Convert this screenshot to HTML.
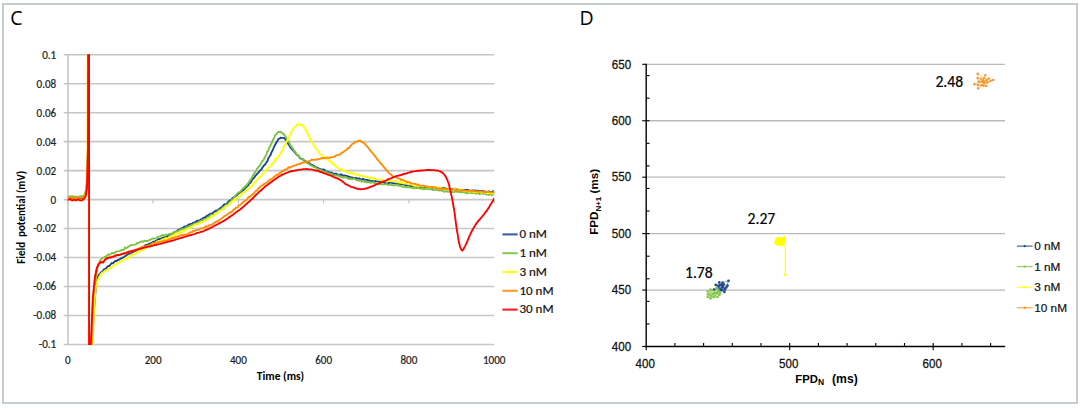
<!DOCTYPE html>
<html><head><meta charset="utf-8"><style>
html,body{margin:0;padding:0;background:#fff;}
body{width:1081px;height:408px;overflow:hidden;position:relative;}
svg{position:absolute;left:0;top:0;}
.cal{font-family:"Carlito","Liberation Sans",sans-serif;}
.ari{font-family:"Liberation Sans",Arial,sans-serif;}
</style></head><body>
<svg width="1081" height="408" viewBox="0 0 1081 408">
<rect x="3" y="4" width="1074" height="399" fill="#fff" stroke="#c4cdcc" stroke-width="2"/>
<text x="10.2" y="25.2" font-family="'Open Sans','DejaVu Sans',sans-serif" font-size="19.5" fill="#000">C</text>
<text x="579.6" y="25.2" font-family="'Open Sans','DejaVu Sans',sans-serif" font-size="19.5" fill="#000">D</text>
<!-- chart C -->
<g stroke="#c6c6c6" stroke-width="1.55"><line x1="63.8" x2="494.2" y1="54.70" y2="54.70"/><line x1="63.8" x2="494.2" y1="83.68" y2="83.68"/><line x1="63.8" x2="494.2" y1="112.66" y2="112.66"/><line x1="63.8" x2="494.2" y1="141.64" y2="141.64"/><line x1="63.8" x2="494.2" y1="170.62" y2="170.62"/><line x1="63.8" x2="494.2" y1="199.60" y2="199.60"/><line x1="63.8" x2="494.2" y1="228.58" y2="228.58"/><line x1="63.8" x2="494.2" y1="257.56" y2="257.56"/><line x1="63.8" x2="494.2" y1="286.54" y2="286.54"/><line x1="63.8" x2="494.2" y1="315.52" y2="315.52"/><line x1="63.8" x2="494.2" y1="344.50" y2="344.50"/></g>
<line x1="68" x2="68" y1="54.2" y2="345" stroke="#bfbfbf" stroke-width="1.4"/>
<g stroke="#bfbfbf" stroke-width="1.1"><line x1="67.8" x2="67.8" y1="199.6" y2="203.5"/><line x1="153.1" x2="153.1" y1="199.6" y2="203.5"/><line x1="238.4" x2="238.4" y1="199.6" y2="203.5"/><line x1="323.6" x2="323.6" y1="199.6" y2="203.5"/><line x1="408.9" x2="408.9" y1="199.6" y2="203.5"/><line x1="494.2" x2="494.2" y1="199.6" y2="203.5"/></g>
<defs><clipPath id="pc"><rect x="67.8" y="54.3" width="426.4" height="290.6"/></clipPath></defs>
<g clip-path="url(#pc)" fill="none" stroke-width="1.85" stroke-linejoin="round" stroke-linecap="round"><path d="M68.0,198.6 L72.0,198.9 L76.0,198.4 L80.0,198.9 L83.5,198.2 L85.3,195.5 L86.8,185.0 L87.9,150.0 L88.0,40.0 L89.0,40.0 L89.1,360.0 L91.5,350.0 L91.5,349.3 L91.6,348.6 L91.6,347.7 L91.7,346.8 L91.8,345.8 L91.8,344.1 L91.9,343.3 L92.0,342.3 L92.0,340.9 L92.1,339.6 L92.2,338.1 L92.3,337.1 L92.4,335.8 L92.5,334.5 L92.6,332.3 L92.6,331.2 L92.7,329.7 L92.8,328.6 L92.9,327.4 L93.0,325.4 L93.1,324.1 L93.2,323.2 L93.3,321.4 L93.3,320.7 L93.4,319.1 L93.5,318.3 L93.6,316.1 L93.7,315.2 L93.8,314.3 L93.9,312.1 L94.0,311.1 L94.1,309.6 L94.2,308.0 L94.3,307.2 L94.4,305.2 L94.5,303.7 L94.6,302.8 L94.7,301.7 L94.8,300.4 L94.9,299.2 L95.0,298.0 L95.1,297.1 L95.1,296.0 L95.2,294.9 L95.3,293.7 L95.4,293.0 L95.5,291.9 L95.7,290.7 L95.8,288.3 L96.0,286.8 L96.1,285.7 L96.3,284.4 L96.4,284.0 L96.6,282.1 L96.7,282.0 L96.9,280.5 L97.1,280.0 L97.5,278.7 L97.9,277.5 L98.4,275.9 L98.8,275.0 L99.4,274.4 L100.2,273.5 L101.1,272.2 L102.1,271.9 L103.0,270.8 L104.2,269.1 L105.5,268.9 L106.7,267.6 L107.9,266.1 L109.2,266.0 L110.4,264.7 L111.6,263.1 L112.9,263.3 L114.1,262.0 L115.3,261.0 L116.5,261.0 L117.7,260.0 L118.7,259.9 L119.7,259.4 L120.7,258.3 L122.0,258.3 L122.9,257.4 L124.0,257.0 L125.0,256.3 L126.2,255.4 L127.4,254.6 L128.6,254.0 L129.6,253.5 L130.6,253.3 L131.7,252.7 L132.8,252.2 L133.9,251.6 L135.0,250.7 L136.1,250.7 L137.2,250.2 L138.3,249.6 L139.4,249.2 L140.4,247.8 L141.5,248.0 L142.6,247.4 L143.7,246.7 L144.7,246.0 L145.8,244.8 L147.0,245.0 L148.3,244.3 L149.6,243.7 L150.9,243.2 L152.1,242.7 L153.2,241.7 L154.3,242.0 L155.5,241.0 L156.5,240.7 L157.5,239.8 L158.6,239.1 L160.0,239.0 L161.0,238.6 L162.1,238.2 L163.3,237.6 L164.5,237.1 L165.8,236.8 L167.1,236.7 L168.5,235.4 L169.7,234.5 L171.0,234.6 L172.1,234.0 L173.3,233.5 L174.4,232.4 L175.6,231.6 L176.7,231.3 L177.8,230.2 L178.9,229.6 L180.0,229.5 L181.0,228.5 L182.0,228.5 L183.3,227.6 L184.4,226.5 L185.5,227.0 L186.5,225.9 L187.5,225.5 L188.6,224.7 L189.8,224.1 L190.9,224.1 L192.1,223.6 L193.3,222.7 L194.6,222.3 L195.8,221.8 L197.1,220.6 L198.4,221.0 L199.6,220.2 L200.7,219.5 L201.9,219.1 L203.0,218.1 L204.2,217.5 L205.3,217.7 L206.4,216.1 L207.5,215.6 L208.5,215.2 L209.4,214.3 L210.7,213.6 L211.8,213.7 L212.7,213.1 L213.8,211.9 L215.0,211.4 L215.9,210.4 L217.0,211.0 L218.1,209.9 L219.2,208.9 L220.4,208.0 L221.5,207.4 L222.6,206.6 L223.6,205.1 L224.7,204.3 L225.7,204.8 L226.7,203.7 L227.6,202.8 L228.6,201.3 L229.5,200.9 L230.4,200.1 L231.4,199.8 L232.4,198.2 L233.4,197.6 L234.4,197.0 L235.4,196.3 L236.4,195.7 L237.3,195.1 L238.3,193.4 L239.3,193.3 L240.4,192.1 L241.4,191.8 L242.4,190.6 L243.3,190.1 L244.2,189.5 L245.2,187.6 L246.1,187.5 L247.0,186.3 L247.8,185.7 L248.6,184.8 L249.3,183.3 L250.3,183.1 L250.9,182.2 L251.7,180.6 L252.7,178.7 L253.4,178.6 L254.2,177.7 L255.1,176.2 L256.0,175.1 L256.9,173.9 L257.9,173.2 L258.8,172.1 L259.6,171.2 L260.5,170.1 L261.4,169.5 L262.3,167.8 L263.2,166.5 L264.0,165.4 L264.8,165.2 L265.5,163.7 L266.3,162.5 L267.0,161.6 L267.6,160.9 L268.2,158.7 L268.8,157.4 L269.4,156.8 L270.1,155.4 L270.7,155.0 L271.2,152.8 L271.8,152.0 L272.4,150.7 L272.9,149.6 L273.5,148.3 L274.0,146.7 L274.5,146.2 L275.1,144.8 L275.6,144.0 L276.4,142.5 L277.2,141.2 L277.9,140.0 L278.6,138.8 L279.7,138.7 L280.6,137.7 L282.6,137.8 L284.6,138.1 L285.4,139.5 L286.3,140.4 L287.2,142.0 L287.8,143.0 L288.3,144.0 L289.0,145.0 L289.7,146.1 L290.6,147.7 L291.3,148.3 L292.0,149.1 L292.9,150.4 L293.8,151.1 L294.7,152.3 L295.6,153.5 L296.5,154.5 L297.4,155.1 L298.4,155.7 L299.4,157.3 L300.4,158.3 L301.4,158.8 L302.5,158.8 L303.6,160.1 L304.8,160.7 L305.8,161.7 L306.8,162.1 L307.9,161.8 L309.0,163.2 L310.1,163.7 L311.2,164.7 L312.4,165.1 L313.5,165.8 L314.6,166.3 L315.8,167.2 L317.1,167.4 L318.3,168.3 L319.6,168.9 L320.8,169.1 L322.0,170.0 L323.2,169.4 L324.4,169.9 L325.6,171.0 L326.8,171.5 L327.9,171.7 L329.0,172.9 L330.2,172.5 L331.5,172.6 L333.0,173.5 L334.0,174.2 L335.0,173.7 L336.1,173.6 L337.2,174.2 L338.4,174.9 L339.6,175.3 L340.8,174.2 L342.0,174.9 L343.3,175.7 L344.6,175.5 L345.9,175.8 L347.2,175.8 L348.3,176.9 L349.5,176.7 L350.7,177.3 L351.9,177.4 L353.1,177.8 L354.3,178.1 L355.6,177.8 L356.8,178.5 L358.1,178.7 L359.3,178.4 L360.6,179.2 L361.8,179.4 L363.1,178.9 L364.3,179.6 L365.5,179.9 L366.8,179.9 L368.0,180.3 L369.3,180.4 L370.6,180.9 L371.9,181.2 L373.1,181.0 L374.4,181.8 L375.6,181.0 L376.9,181.3 L378.1,181.3 L379.2,181.7 L380.4,182.1 L381.5,182.1 L382.9,181.9 L384.2,182.6 L385.5,183.3 L386.8,183.4 L388.1,183.2 L389.3,182.8 L390.5,182.5 L391.7,182.7 L392.8,183.5 L393.9,183.1 L395.0,183.5 L396.3,184.0 L397.5,183.4 L398.5,183.7 L399.5,184.2 L400.6,184.1 L401.7,184.4 L403.1,184.3 L404.8,184.8 L405.8,185.6 L406.8,185.4 L407.9,185.4 L409.0,184.8 L410.2,186.0 L411.4,186.3 L412.7,186.1 L414.0,185.6 L415.3,186.8 L416.6,186.4 L417.9,186.5 L419.3,187.1 L420.6,187.0 L421.9,186.8 L423.2,187.1 L424.4,187.0 L425.6,187.4 L426.9,187.2 L428.2,187.1 L429.5,187.3 L430.8,187.2 L432.1,188.0 L433.4,187.8 L434.7,187.2 L436.0,187.7 L437.3,188.2 L438.5,188.3 L439.7,188.0 L440.9,188.8 L442.0,188.1 L443.0,187.8 L444.0,188.5 L445.4,188.4 L446.5,189.1 L447.3,189.0 L447.9,188.7 L448.6,188.9 L449.6,189.3 L450.8,189.5 L452.6,189.0 L455.0,188.7 L455.8,188.9 L456.7,190.1 L457.7,189.5 L458.8,189.9 L460.0,189.8 L461.2,190.0 L462.4,190.4 L463.7,190.5 L465.1,189.9 L466.5,189.9 L467.9,189.8 L469.4,191.0 L470.8,190.6 L472.3,190.3 L473.8,190.9 L475.3,190.3 L476.8,191.0 L478.2,190.6 L479.7,191.5 L481.1,191.0 L482.5,191.0 L483.9,191.3 L485.2,191.4 L486.5,192.3 L487.7,191.6 L488.9,191.3 L490.0,191.9 L491.0,191.9 L491.9,191.8 L492.8,191.3 L493.5,191.4 L494.2,191.8" stroke="#1a4490"/>
<path d="M68.0,196.6 L72.0,196.2 L76.0,196.8 L80.0,196.3 L83.5,196.0 L85.3,193.5 L86.8,185.0 L87.9,150.0 L88.0,40.0 L89.0,40.0 L89.1,360.0 L91.5,350.0 L91.5,349.4 L91.6,348.6 L91.6,347.8 L91.6,346.9 L91.7,346.0 L91.7,344.8 L91.7,343.7 L91.8,342.8 L91.8,341.3 L91.9,340.3 L91.9,338.6 L92.0,337.8 L92.0,336.7 L92.1,335.4 L92.2,333.6 L92.2,332.7 L92.3,331.2 L92.3,329.3 L92.4,327.9 L92.4,326.2 L92.5,325.5 L92.6,324.1 L92.6,322.2 L92.7,321.3 L92.8,320.5 L92.8,319.0 L92.9,316.8 L92.9,316.7 L93.0,315.5 L93.1,314.1 L93.1,312.4 L93.2,311.3 L93.3,310.2 L93.4,309.0 L93.4,306.9 L93.5,306.7 L93.6,304.4 L93.7,303.5 L93.7,302.2 L93.8,301.5 L93.9,299.4 L94.0,298.0 L94.1,297.0 L94.1,295.5 L94.2,294.5 L94.3,293.6 L94.4,292.6 L94.5,290.5 L94.6,289.5 L94.6,288.9 L94.7,287.2 L94.8,287.3 L94.9,286.1 L95.0,285.7 L95.2,283.7 L95.3,282.5 L95.5,279.8 L95.7,278.9 L95.9,277.7 L96.1,276.3 L96.3,274.6 L96.4,273.8 L96.6,272.2 L96.8,271.9 L97.0,270.6 L97.2,271.1 L97.3,268.7 L97.5,267.6 L97.9,266.6 L98.3,264.5 L98.6,263.5 L99.0,263.7 L99.4,262.1 L100.4,259.9 L101.6,258.9 L102.6,258.0 L103.8,257.5 L105.2,256.6 L106.4,256.4 L107.8,254.5 L109.2,254.9 L110.4,254.3 L111.7,253.2 L112.9,252.9 L114.1,253.1 L115.3,252.4 L116.5,251.4 L117.7,251.3 L119.0,251.1 L120.4,250.8 L122.0,249.8 L122.9,250.1 L124.0,249.6 L125.0,247.5 L126.2,248.3 L127.4,247.5 L128.6,246.4 L129.7,246.0 L130.9,245.1 L132.1,244.8 L133.4,244.9 L134.7,244.7 L136.0,244.3 L137.2,242.9 L138.4,242.9 L139.7,242.3 L140.9,241.7 L142.1,241.3 L143.4,241.9 L144.6,240.8 L145.8,240.9 L147.0,241.0 L148.3,240.8 L149.6,239.8 L150.9,239.6 L152.1,238.6 L153.2,238.5 L154.3,238.6 L155.8,238.4 L157.0,237.4 L158.3,236.6 L160.0,236.7 L161.0,235.9 L162.1,235.0 L163.3,235.4 L164.5,236.0 L165.8,234.6 L167.1,234.7 L168.5,234.4 L169.7,233.7 L171.0,233.7 L172.2,233.9 L173.4,232.2 L174.7,232.6 L175.9,231.4 L177.1,231.5 L178.3,230.9 L179.5,230.4 L180.8,229.5 L182.0,229.1 L183.1,229.1 L184.2,228.7 L185.3,228.3 L186.4,227.1 L187.5,227.4 L188.6,226.1 L189.7,226.2 L190.8,225.5 L192.0,224.8 L193.1,224.7 L194.3,223.7 L195.5,223.6 L196.7,223.3 L197.9,222.6 L199.1,221.7 L200.3,221.2 L201.5,220.5 L202.7,220.6 L203.9,219.3 L205.0,219.1 L206.2,218.9 L207.4,218.2 L208.5,217.2 L209.7,215.8 L210.8,215.5 L211.8,215.1 L212.9,214.8 L214.0,214.7 L215.0,213.1 L216.2,213.6 L217.3,211.9 L218.4,210.9 L219.5,210.0 L220.6,209.7 L221.6,209.0 L222.6,207.8 L223.6,208.8 L224.7,206.7 L225.7,206.3 L226.7,204.6 L227.6,204.5 L228.6,203.6 L229.5,202.4 L230.4,201.8 L231.3,200.9 L232.1,199.5 L233.0,199.5 L233.8,197.9 L234.6,196.4 L235.5,195.6 L236.4,194.5 L237.3,193.6 L238.3,192.4 L239.3,192.4 L240.3,191.7 L241.3,190.3 L242.3,189.3 L243.3,187.8 L244.2,188.0 L245.0,186.3 L245.9,185.7 L246.7,185.2 L247.6,183.8 L248.4,182.9 L249.2,181.6 L250.0,180.3 L250.7,180.0 L251.3,178.3 L252.0,178.0 L252.6,175.9 L253.2,175.4 L253.8,174.2 L254.4,173.0 L255.1,172.4 L255.7,171.3 L256.4,170.1 L257.2,168.4 L258.0,167.7 L258.8,166.7 L259.5,166.0 L260.3,164.6 L261.0,163.5 L261.6,162.6 L262.4,160.8 L263.1,160.7 L263.7,160.0 L264.3,158.0 L264.9,157.5 L265.5,155.8 L266.1,155.2 L266.7,153.9 L267.2,151.4 L267.8,151.1 L268.4,150.5 L268.9,148.5 L269.4,147.5 L269.9,146.4 L270.4,145.9 L271.0,143.9 L271.5,143.8 L272.0,142.1 L272.6,140.7 L273.1,139.8 L273.6,138.7 L274.2,137.7 L274.7,136.6 L275.3,134.8 L276.3,134.2 L277.3,133.0 L278.4,132.0 L279.4,131.9 L280.7,132.0 L282.0,132.7 L283.2,134.0 L284.0,134.2 L284.7,135.5 L285.3,136.2 L286.0,137.5 L286.6,138.4 L287.2,139.7 L287.9,140.8 L288.9,142.0 L289.4,142.8 L290.0,144.7 L290.6,145.0 L291.2,146.7 L291.9,146.7 L292.6,148.6 L293.4,149.1 L294.1,151.2 L294.9,151.2 L295.7,152.9 L296.5,154.0 L297.4,154.9 L298.2,155.1 L299.1,156.9 L300.1,157.5 L301.0,158.4 L301.9,159.3 L302.9,159.2 L303.9,161.0 L304.8,161.3 L305.9,162.2 L306.9,163.2 L308.0,163.6 L309.1,163.9 L310.2,165.2 L311.3,165.6 L312.4,166.0 L313.5,166.8 L314.6,167.1 L315.8,167.7 L317.1,168.6 L318.3,169.1 L319.6,169.6 L320.8,170.5 L322.0,170.5 L323.2,171.6 L324.4,171.9 L325.6,171.7 L326.8,172.3 L327.9,172.9 L329.0,173.3 L330.2,173.9 L331.5,173.8 L333.0,175.2 L334.0,175.1 L335.0,175.3 L336.1,175.9 L337.2,175.4 L338.4,175.5 L339.6,176.5 L340.8,176.8 L342.0,177.2 L343.3,177.8 L344.6,177.0 L345.9,177.3 L347.2,177.9 L348.3,178.6 L349.5,179.1 L350.7,178.4 L351.9,179.3 L353.1,178.9 L354.3,178.7 L355.6,179.5 L356.8,180.3 L358.1,180.2 L359.3,181.0 L360.6,180.3 L361.8,181.8 L363.1,180.9 L364.3,182.1 L365.5,181.2 L366.8,182.5 L368.0,181.9 L369.3,182.2 L370.6,182.8 L371.9,182.5 L373.1,182.0 L374.4,183.3 L375.6,183.4 L376.9,183.8 L378.1,183.7 L379.2,183.9 L380.4,184.3 L381.5,184.4 L382.9,184.1 L384.2,184.4 L385.5,184.4 L386.8,183.9 L388.1,185.0 L389.3,184.8 L390.5,184.5 L391.7,185.1 L392.8,185.4 L393.9,185.3 L395.0,185.3 L396.3,184.7 L397.5,185.2 L398.5,186.0 L399.5,185.4 L400.6,186.0 L401.7,186.3 L403.1,186.8 L404.8,187.2 L405.8,187.0 L406.8,187.3 L407.9,187.3 L409.0,187.1 L410.2,187.3 L411.4,187.7 L412.7,187.7 L414.0,188.5 L415.3,187.4 L416.6,188.3 L417.9,188.1 L419.3,187.9 L420.6,188.8 L421.9,188.3 L423.2,189.3 L424.4,189.2 L425.6,188.7 L426.9,189.1 L428.2,189.1 L429.5,189.4 L430.8,188.9 L432.1,189.6 L433.4,190.1 L434.7,190.0 L436.0,189.3 L437.3,190.2 L438.5,190.3 L439.7,190.5 L440.9,190.1 L442.0,190.8 L443.0,190.6 L444.0,191.8 L445.4,191.3 L446.5,191.1 L447.3,191.8 L447.9,191.6 L448.6,191.5 L449.6,192.1 L450.8,191.1 L452.6,192.2 L455.0,191.8 L455.8,191.0 L456.7,191.9 L457.7,191.7 L458.8,191.8 L460.0,192.4 L461.2,192.0 L462.4,192.2 L463.7,192.3 L465.1,192.4 L466.5,193.4 L467.9,192.6 L469.4,193.1 L470.8,192.6 L472.3,193.0 L473.8,192.5 L475.3,193.6 L476.8,193.5 L478.2,193.2 L479.7,194.1 L481.1,193.7 L482.5,193.1 L483.9,194.0 L485.2,193.1 L486.5,194.8 L487.7,194.0 L488.9,194.9 L490.0,194.5 L491.0,194.1 L491.9,195.3 L492.8,194.3 L493.5,194.5 L494.2,194.5" stroke="#7cc242"/>
<path d="M68.0,199.2 L72.0,199.6 L76.0,199.0 L80.0,199.8 L82.5,200.6 L84.5,198.5 L85.6,195.0 L86.9,185.0 L87.6,150.0 L87.7,40.0 L89.0,40.0 L89.1,360.0 L92.5,350.0 L92.5,349.3 L92.6,348.6 L92.6,347.7 L92.6,346.8 L92.7,345.7 L92.7,344.5 L92.7,343.4 L92.8,342.7 L92.8,341.8 L92.9,339.1 L92.9,338.1 L93.0,337.2 L93.0,335.0 L93.1,333.6 L93.1,332.8 L93.2,331.4 L93.2,329.6 L93.3,328.6 L93.3,327.3 L93.4,325.0 L93.4,324.8 L93.5,323.9 L93.6,322.5 L93.6,321.4 L93.7,319.4 L93.7,317.7 L93.8,316.6 L93.9,315.7 L93.9,313.8 L94.0,312.5 L94.0,311.3 L94.1,310.5 L94.2,309.2 L94.2,307.6 L94.3,306.3 L94.4,305.4 L94.4,305.1 L94.5,304.1 L94.6,301.9 L94.6,300.9 L94.7,300.3 L94.8,298.0 L94.9,297.0 L95.1,294.8 L95.2,293.8 L95.3,292.5 L95.4,291.1 L95.6,290.2 L95.7,289.4 L95.8,287.8 L96.0,286.7 L96.3,285.2 L96.6,284.7 L96.9,283.1 L97.2,282.1 L97.5,280.4 L97.9,280.2 L98.4,278.7 L98.9,277.9 L99.5,276.5 L100.2,275.6 L100.8,274.2 L102.0,272.9 L103.2,272.5 L104.5,271.0 L105.7,270.4 L106.9,270.4 L108.2,269.3 L109.3,268.5 L110.4,268.3 L111.5,266.6 L112.6,266.4 L113.7,265.7 L114.8,264.8 L115.9,264.1 L117.0,263.0 L118.2,262.8 L119.4,262.1 L120.6,261.5 L122.0,261.1 L123.0,260.0 L124.0,259.4 L125.1,258.8 L126.2,258.1 L127.4,259.0 L128.6,257.4 L129.6,256.3 L130.6,256.3 L131.7,254.6 L132.8,255.2 L133.9,254.6 L135.0,253.6 L136.1,253.4 L137.2,252.8 L138.3,251.5 L139.4,251.4 L140.4,250.5 L141.5,250.7 L142.6,249.8 L143.7,248.5 L144.7,248.6 L145.8,248.2 L147.0,247.3 L148.3,246.7 L149.6,246.6 L150.9,245.7 L152.1,245.3 L153.2,244.6 L154.3,243.9 L155.5,244.2 L156.5,241.9 L157.5,241.3 L158.6,241.3 L160.0,240.9 L161.0,240.7 L162.1,239.5 L163.3,239.6 L164.5,238.6 L165.8,238.2 L167.1,238.3 L168.5,238.2 L169.7,236.4 L171.0,237.0 L172.1,235.7 L173.2,235.6 L174.3,234.5 L175.4,234.8 L176.5,233.3 L177.6,233.3 L178.7,232.8 L179.8,233.1 L180.9,232.2 L182.0,231.5 L183.1,230.6 L184.2,230.4 L185.3,230.5 L186.4,229.3 L187.5,228.8 L188.6,228.5 L189.7,227.6 L190.8,227.5 L192.0,226.6 L193.1,226.2 L194.3,225.3 L195.5,224.4 L196.7,224.2 L197.9,223.9 L199.1,223.8 L200.3,222.8 L201.5,222.0 L202.7,221.9 L203.9,221.0 L205.0,220.5 L206.2,220.3 L207.4,219.0 L208.5,218.6 L209.7,218.4 L210.8,217.1 L211.8,215.8 L212.9,216.0 L214.0,215.6 L215.0,213.9 L216.1,213.5 L217.2,212.7 L218.3,212.1 L219.4,210.9 L220.4,210.7 L221.5,210.3 L222.5,209.4 L223.6,208.0 L224.7,207.1 L225.8,206.1 L226.8,205.8 L227.9,205.4 L229.0,204.7 L230.1,203.3 L231.1,202.4 L232.2,201.3 L233.1,200.9 L234.1,200.4 L235.0,199.2 L235.9,198.5 L236.9,198.4 L237.8,197.6 L238.8,196.8 L239.7,196.5 L240.7,194.9 L241.7,193.9 L242.8,193.2 L243.9,192.0 L245.0,191.9 L246.1,190.9 L247.2,190.1 L248.2,188.9 L249.2,188.3 L250.0,187.5 L251.1,186.2 L251.9,185.8 L252.6,185.0 L253.4,183.6 L254.7,182.8 L255.3,181.7 L256.1,181.0 L256.9,180.3 L257.7,178.7 L258.6,178.2 L259.5,176.7 L260.4,176.9 L261.4,176.0 L262.3,173.8 L263.1,174.1 L264.0,172.0 L264.8,171.5 L265.5,171.3 L266.6,169.8 L267.5,168.4 L268.5,167.7 L269.3,166.8 L270.1,166.4 L270.9,166.0 L271.7,164.9 L272.4,163.3 L273.4,163.3 L274.2,161.5 L275.1,159.2 L275.9,159.8 L276.6,158.6 L277.3,158.0 L278.1,157.3 L278.8,156.0 L279.5,154.9 L280.5,154.1 L280.9,152.9 L281.4,151.6 L282.0,150.9 L282.5,150.1 L283.1,148.9 L283.7,147.2 L284.3,145.2 L285.0,145.1 L285.6,143.9 L286.1,142.3 L286.7,141.8 L287.2,140.5 L287.8,139.4 L288.5,138.3 L289.1,137.1 L289.7,135.3 L290.3,134.5 L290.8,133.6 L291.3,131.9 L291.8,130.9 L292.3,130.9 L293.3,128.6 L294.1,127.2 L294.8,126.9 L295.5,126.5 L296.7,125.4 L297.8,123.9 L299.1,124.5 L300.5,125.3 L301.7,124.5 L303.0,125.1 L303.7,126.7 L304.3,127.7 L305.1,129.0 L306.0,130.1 L306.5,131.8 L307.0,132.8 L307.6,133.8 L308.2,134.6 L308.8,136.2 L309.4,136.9 L310.0,138.6 L310.6,140.1 L311.2,140.9 L311.8,142.1 L312.5,143.3 L313.1,144.0 L313.8,145.2 L314.4,146.4 L315.0,147.3 L315.7,148.4 L316.3,149.5 L317.1,149.7 L318.0,151.0 L318.8,152.1 L319.6,153.6 L320.5,154.7 L321.5,154.9 L322.5,156.2 L323.6,156.7 L324.7,157.4 L325.8,158.5 L327.0,159.0 L328.3,160.1 L329.2,161.2 L330.1,161.4 L331.1,161.9 L332.1,162.5 L333.1,164.4 L334.1,164.4 L335.1,165.1 L336.0,166.5 L336.9,167.2 L338.1,168.1 L339.1,168.4 L340.1,168.6 L341.1,169.7 L342.3,169.6 L343.7,170.3 L344.7,170.7 L345.8,172.1 L346.9,171.9 L348.1,172.3 L349.4,172.0 L350.7,173.7 L351.9,173.2 L353.2,173.7 L354.5,174.3 L355.7,174.2 L356.9,174.7 L358.1,175.4 L359.2,175.1 L360.4,175.5 L361.6,176.2 L362.8,176.1 L364.0,176.4 L365.2,176.3 L366.4,176.8 L367.7,177.3 L368.9,177.8 L370.1,177.5 L371.3,178.6 L372.6,177.7 L373.9,179.0 L375.1,178.8 L376.4,179.5 L377.7,179.3 L379.0,179.6 L380.2,179.9 L381.5,179.5 L382.8,180.1 L384.0,180.5 L385.3,181.0 L386.6,180.4 L387.9,181.2 L389.1,180.8 L390.4,181.1 L391.6,181.3 L392.8,181.2 L393.9,181.4 L395.0,181.5 L396.3,181.5 L397.5,181.9 L398.5,182.6 L399.5,182.5 L400.6,182.9 L401.7,182.1 L403.1,183.4 L404.8,183.5 L405.8,183.6 L406.8,183.6 L407.9,184.0 L409.0,184.4 L410.2,184.4 L411.4,184.3 L412.7,184.9 L414.0,185.6 L415.3,185.9 L416.6,185.6 L417.9,186.0 L419.3,186.1 L420.6,186.0 L421.9,186.3 L423.2,186.6 L424.4,186.3 L425.6,186.4 L426.9,186.9 L428.2,186.8 L429.5,187.2 L430.8,187.0 L432.1,187.2 L433.4,187.7 L434.7,187.2 L436.0,187.7 L437.3,187.4 L438.5,187.5 L439.7,187.6 L440.9,188.4 L442.0,188.3 L443.0,189.1 L444.0,188.7 L445.4,188.9 L446.5,188.6 L447.3,189.2 L447.9,188.6 L448.6,188.8 L449.6,189.0 L450.8,189.1 L452.6,189.7 L455.0,189.0 L455.8,189.4 L456.7,189.9 L457.7,189.9 L458.8,190.1 L460.0,189.7 L461.2,189.1 L462.4,190.4 L463.7,190.6 L465.1,190.7 L466.5,191.3 L467.9,190.8 L469.4,191.9 L470.8,191.3 L472.3,191.4 L473.8,192.1 L475.3,191.4 L476.8,192.2 L478.2,191.6 L479.7,192.0 L481.1,192.7 L482.5,192.1 L483.9,192.4 L485.2,192.6 L486.5,192.8 L487.7,193.3 L488.9,192.7 L490.0,192.8 L491.0,193.0 L491.9,193.5 L492.8,193.7 L493.5,193.3 L494.2,193.5" stroke="#ffff00"/>
<path d="M68.0,198.0 L72.0,197.6 L76.0,198.2 L80.0,197.8 L83.5,197.6 L85.4,195.0 L86.8,185.0 L87.8,150.0 L87.9,40.0 L89.0,40.0 L89.1,360.0 L91.5,350.0 L91.5,349.3 L91.5,348.5 L91.6,347.7 L91.6,346.7 L91.6,345.6 L91.6,344.7 L91.7,343.9 L91.7,342.5 L91.7,340.8 L91.8,339.1 L91.8,337.9 L91.8,336.6 L91.9,334.8 L91.9,333.2 L91.9,332.0 L92.0,330.3 L92.0,329.7 L92.0,328.0 L92.1,326.5 L92.1,325.1 L92.1,324.2 L92.2,322.7 L92.2,321.2 L92.2,320.5 L92.3,319.0 L92.3,318.4 L92.3,316.4 L92.4,315.2 L92.4,313.2 L92.5,311.9 L92.5,310.9 L92.6,309.7 L92.6,308.2 L92.6,307.4 L92.7,306.2 L92.7,304.8 L92.8,303.9 L92.8,303.0 L92.9,301.9 L92.9,301.1 L93.0,300.1 L93.1,298.8 L93.2,297.3 L93.3,296.2 L93.4,294.3 L93.5,293.7 L93.6,291.9 L93.7,290.7 L93.8,289.7 L94.0,288.7 L94.1,286.5 L94.2,285.7 L94.3,284.6 L94.5,283.9 L94.6,282.1 L94.8,280.7 L94.9,279.8 L95.1,278.1 L95.2,277.1 L95.4,276.2 L95.6,274.7 L95.7,273.6 L96.0,272.4 L96.2,270.9 L96.5,270.1 L96.8,268.7 L97.1,267.7 L97.7,266.0 L98.4,264.9 L99.0,263.5 L99.9,262.6 L100.8,262.2 L103.0,261.4 L104.1,260.8 L105.2,259.7 L106.2,258.1 L107.4,258.4 L108.8,257.6 L110.4,257.1 L111.6,257.4 L112.8,256.6 L114.1,255.7 L115.3,255.5 L116.5,255.0 L117.7,255.2 L119.0,255.0 L120.3,254.8 L122.0,253.6 L123.0,253.3 L124.2,252.8 L125.4,252.7 L126.6,252.5 L127.9,252.4 L129.2,251.1 L130.5,251.7 L131.9,250.8 L133.4,250.7 L134.8,250.1 L136.1,249.5 L137.2,249.8 L138.8,248.6 L140.0,248.2 L141.5,247.2 L142.6,247.1 L143.8,246.4 L145.1,246.5 L146.4,245.9 L147.7,246.1 L148.8,245.3 L150.3,245.0 L151.7,244.1 L153.0,243.1 L154.3,242.8 L155.6,242.6 L156.8,242.8 L158.2,242.2 L160.0,241.9 L161.0,241.5 L162.1,241.5 L163.3,241.2 L164.5,240.5 L165.8,240.3 L167.1,240.2 L168.5,239.8 L169.7,239.1 L171.0,238.7 L172.2,237.8 L173.4,238.1 L174.7,237.4 L175.9,237.0 L177.1,236.5 L178.3,236.3 L179.5,236.1 L180.8,235.1 L182.0,235.3 L183.2,234.9 L184.5,234.5 L185.8,234.7 L187.0,234.3 L188.3,233.5 L189.5,232.7 L190.8,232.1 L192.0,232.1 L193.1,231.0 L194.3,231.1 L195.5,230.3 L196.7,230.2 L197.8,229.8 L198.9,229.8 L200.0,228.5 L201.1,228.6 L202.2,228.3 L203.5,227.8 L204.7,227.3 L205.9,226.2 L207.1,226.8 L208.3,225.9 L209.6,224.9 L211.0,224.8 L212.0,224.4 L213.1,223.8 L214.1,222.9 L215.2,222.5 L216.4,221.3 L217.5,221.8 L218.6,220.2 L219.8,219.8 L220.9,218.9 L222.0,218.0 L223.0,217.5 L224.0,216.2 L225.0,216.1 L226.0,215.3 L227.0,214.7 L228.0,214.0 L229.0,213.1 L230.0,212.3 L231.0,212.5 L232.0,211.5 L233.1,210.5 L234.0,209.1 L234.9,209.2 L235.9,207.6 L236.9,207.7 L237.9,207.1 L238.8,205.2 L239.8,205.1 L240.8,204.2 L241.7,203.3 L242.7,202.8 L243.6,201.4 L244.5,201.3 L245.3,200.8 L246.4,200.1 L247.5,198.5 L248.6,197.0 L249.5,197.2 L250.5,195.8 L251.4,195.5 L252.4,194.3 L253.3,193.9 L254.3,193.0 L255.3,191.7 L256.2,190.7 L257.2,190.3 L258.1,188.7 L259.1,188.2 L260.0,186.9 L261.0,186.1 L261.9,185.4 L262.9,185.3 L264.0,183.9 L265.1,183.9 L266.1,182.8 L267.2,182.2 L268.3,181.1 L269.4,180.4 L270.4,179.3 L271.5,179.0 L272.6,178.5 L273.6,177.2 L274.7,176.7 L275.8,175.5 L276.8,174.7 L277.9,174.8 L278.9,174.1 L280.0,172.6 L281.1,172.7 L282.1,170.9 L283.1,171.4 L284.1,170.1 L285.2,169.5 L286.3,169.4 L287.4,168.6 L288.6,167.2 L289.6,167.9 L290.7,166.8 L291.8,166.6 L292.9,166.1 L294.0,165.9 L295.2,165.4 L296.4,164.9 L297.6,164.3 L298.8,164.2 L300.0,164.0 L301.1,163.0 L302.3,162.8 L303.5,162.6 L304.8,162.4 L306.0,161.9 L307.2,161.5 L308.5,161.5 L309.7,161.0 L310.8,160.3 L311.9,159.5 L312.9,159.9 L314.4,159.8 L315.7,159.4 L316.9,159.8 L318.0,159.1 L319.2,158.8 L320.3,158.8 L321.5,158.0 L322.7,158.4 L324.0,157.9 L325.3,158.0 L326.6,157.7 L327.8,157.5 L329.0,158.0 L330.0,157.7 L331.5,157.1 L332.8,157.1 L333.9,156.8 L335.1,156.2 L336.4,155.2 L337.6,155.1 L338.9,154.8 L340.3,154.2 L341.2,153.2 L342.2,152.5 L343.1,152.2 L344.2,151.3 L345.2,150.5 L346.2,150.0 L347.2,149.0 L348.2,148.0 L349.2,148.1 L350.3,146.1 L351.3,145.0 L352.2,144.0 L353.2,143.7 L354.0,142.9 L355.6,141.9 L357.0,141.5 L358.3,140.7 L359.7,140.7 L361.1,141.4 L362.6,142.3 L363.4,142.9 L364.2,143.0 L365.0,144.0 L365.8,145.4 L366.7,145.7 L367.7,147.3 L368.4,147.8 L369.1,148.6 L369.9,150.3 L370.6,150.6 L371.4,151.8 L372.2,152.6 L373.0,153.3 L373.8,154.9 L374.6,155.5 L375.4,156.7 L376.1,157.4 L376.9,158.9 L377.7,159.8 L378.4,160.8 L379.2,161.3 L380.0,162.1 L380.7,163.6 L381.5,164.1 L382.4,165.3 L383.2,166.2 L384.1,167.5 L385.0,168.3 L385.9,169.6 L386.7,170.4 L387.5,171.0 L388.3,172.1 L389.4,173.4 L390.4,174.1 L391.4,174.9 L392.4,176.0 L393.5,176.6 L394.7,176.9 L396.0,177.4 L397.4,178.0 L398.7,178.6 L399.9,178.7 L401.1,180.2 L402.1,179.9 L403.3,180.2 L404.8,180.9 L405.8,181.2 L406.9,182.2 L408.1,182.1 L409.4,182.1 L410.7,183.3 L412.0,183.5 L413.3,183.6 L414.6,183.8 L415.8,184.2 L417.1,184.7 L418.3,184.7 L419.5,185.5 L420.7,185.9 L421.9,185.7 L423.2,185.6 L424.4,186.0 L425.6,186.3 L426.8,186.4 L428.1,186.9 L429.3,187.1 L430.5,186.9 L431.8,186.6 L433.0,187.4 L434.2,187.3 L435.4,187.5 L436.6,188.3 L437.8,188.3 L439.0,188.3 L440.2,189.4 L441.5,188.6 L442.7,188.8 L444.0,188.8 L445.0,188.6 L445.8,188.9 L446.5,188.8 L447.3,189.3 L448.1,189.1 L449.2,188.9 L450.6,189.0 L452.5,189.7 L455.0,190.2 L455.8,190.5 L456.7,189.8 L457.7,189.7 L458.8,190.2 L460.0,190.3 L461.2,190.4 L462.4,190.0 L463.7,190.4 L465.1,190.7 L466.5,190.9 L467.9,190.8 L469.4,190.6 L470.8,191.3 L472.3,190.5 L473.8,191.4 L475.3,191.3 L476.8,191.3 L478.2,191.9 L479.7,191.9 L481.1,191.7 L482.5,191.5 L483.9,191.8 L485.2,192.1 L486.5,192.0 L487.7,191.9 L488.9,192.0 L490.0,192.0 L491.0,192.5 L491.9,192.3 L492.8,192.4 L493.5,191.9 L494.2,192.6" stroke="#ff8c00"/>
<path d="M68.0,199.8 L70.0,199.0 L72.0,200.6 L74.0,199.6 L76.0,200.4 L78.0,199.2 L80.0,200.6 L82.0,200.2 L84.0,198.8 L85.6,196.5 L87.0,188.0 L88.1,150.0 L88.3,40.0 L89.1,40.0 L89.1,360.0 L90.6,350.0 L90.6,349.3 L90.7,348.4 L90.7,347.4 L90.7,346.2 L90.8,344.9 L90.8,343.5 L90.9,342.2 L91.0,340.9 L91.0,339.3 L91.1,337.9 L91.1,336.4 L91.2,335.0 L91.3,334.0 L91.3,332.7 L91.4,331.5 L91.4,330.4 L91.5,329.2 L91.5,327.6 L91.6,326.7 L91.6,325.6 L91.7,324.3 L91.8,323.0 L91.8,321.6 L91.9,320.5 L91.9,319.3 L92.0,317.8 L92.1,316.9 L92.1,315.6 L92.2,314.4 L92.2,313.2 L92.3,311.8 L92.3,310.7 L92.4,309.5 L92.4,308.3 L92.5,306.9 L92.5,305.7 L92.6,304.5 L92.6,303.3 L92.7,302.2 L92.7,300.9 L92.8,300.3 L92.9,298.6 L93.0,297.1 L93.1,296.0 L93.2,294.5 L93.4,293.2 L93.5,291.8 L93.6,290.7 L93.7,289.4 L93.8,288.5 L93.9,287.3 L94.0,286.7 L94.2,284.8 L94.3,283.5 L94.4,282.3 L94.5,281.2 L94.6,280.1 L94.8,278.6 L95.0,277.2 L95.2,276.0 L95.5,274.8 L95.7,273.5 L96.0,272.2 L96.2,270.8 L96.5,269.9 L96.8,268.4 L97.1,267.4 L97.7,266.0 L98.4,264.7 L99.0,263.8 L100.8,262.0 L103.0,262.6 L104.1,261.1 L105.2,259.5 L106.2,258.9 L107.4,258.0 L108.8,257.6 L110.4,257.5 L111.6,257.2 L112.8,256.9 L114.1,256.4 L115.3,255.9 L116.5,255.3 L117.7,255.0 L119.0,255.1 L120.4,254.5 L122.0,254.2 L123.1,253.9 L124.4,253.5 L125.7,253.1 L127.1,252.5 L128.6,252.0 L129.7,251.7 L130.9,251.4 L132.1,250.7 L133.4,250.6 L134.7,250.3 L136.0,250.0 L137.2,249.5 L138.4,249.2 L139.7,249.0 L140.9,248.6 L142.1,248.1 L143.4,247.9 L144.6,247.7 L145.8,247.1 L147.0,246.8 L148.3,246.7 L149.6,246.5 L150.9,246.2 L152.1,245.9 L153.2,245.5 L154.3,245.0 L155.8,245.0 L157.0,244.6 L158.3,244.2 L160.0,243.9 L161.0,243.7 L162.1,243.4 L163.3,243.2 L164.5,242.7 L165.8,242.3 L167.1,241.9 L168.5,241.6 L169.7,241.4 L171.0,240.7 L172.2,240.7 L173.4,240.3 L174.7,239.9 L175.9,239.4 L177.1,239.1 L178.3,238.6 L179.5,238.5 L180.8,238.0 L182.0,237.6 L183.2,237.5 L184.4,236.8 L185.7,236.6 L186.9,236.1 L188.1,235.8 L189.3,235.4 L190.6,235.0 L191.8,234.9 L193.1,234.3 L194.3,234.1 L195.4,233.8 L196.6,233.1 L197.8,232.8 L199.0,232.6 L200.2,232.2 L201.4,231.7 L202.6,231.5 L203.8,231.0 L205.0,230.4 L206.2,230.0 L207.3,229.4 L208.5,228.9 L209.6,228.4 L210.8,227.6 L211.9,227.3 L213.1,226.5 L214.2,225.9 L215.4,225.2 L216.5,224.8 L217.6,224.2 L218.8,223.5 L219.9,222.9 L221.1,222.3 L222.2,221.7 L223.3,221.1 L224.5,220.5 L225.5,219.7 L226.6,219.1 L227.6,218.4 L228.7,217.6 L229.8,216.9 L230.9,216.1 L231.9,215.4 L232.9,214.7 L233.9,213.9 L234.8,213.4 L235.6,212.5 L236.4,212.0 L237.8,211.0 L238.8,210.4 L239.7,209.8 L240.7,209.0 L241.6,208.3 L242.5,207.6 L243.4,206.8 L244.4,205.7 L245.3,205.0 L246.2,204.1 L247.2,203.2 L248.1,202.6 L249.1,201.8 L250.0,201.1 L250.8,200.0 L251.5,199.4 L252.3,198.8 L253.2,198.0 L254.3,196.4 L255.1,195.9 L255.9,194.9 L256.8,194.3 L257.8,193.3 L258.8,192.1 L259.9,191.2 L260.9,190.5 L261.9,189.5 L262.9,188.6 L263.9,187.7 L264.8,186.8 L265.8,186.1 L266.7,185.4 L267.7,184.7 L268.6,183.9 L269.6,183.4 L270.5,182.5 L271.5,182.0 L272.6,180.9 L273.6,180.2 L274.7,179.5 L275.8,178.7 L276.8,178.0 L277.9,177.4 L278.9,176.4 L280.0,176.0 L281.2,175.2 L282.5,174.6 L283.8,174.1 L285.1,173.5 L286.3,172.8 L287.5,172.6 L288.6,172.0 L290.0,171.5 L291.2,171.3 L292.3,170.9 L293.5,171.0 L295.0,170.4 L296.1,170.5 L297.2,170.1 L298.4,169.9 L299.7,169.7 L301.0,169.6 L302.3,169.4 L303.6,169.2 L304.8,169.1 L306.0,169.2 L307.2,169.0 L308.5,169.3 L309.7,169.4 L310.9,169.4 L312.2,169.7 L313.4,169.9 L314.6,170.4 L315.8,170.5 L317.1,170.9 L318.3,170.9 L319.5,171.6 L320.7,172.0 L321.9,172.2 L323.2,172.8 L324.4,173.4 L325.7,173.7 L326.9,174.2 L328.3,174.8 L329.5,175.1 L330.8,175.6 L332.0,176.1 L333.2,176.6 L334.2,177.4 L335.6,177.8 L336.7,178.2 L337.8,178.7 L338.8,179.2 L340.0,179.8 L340.9,180.3 L341.9,181.0 L342.9,181.8 L343.9,182.6 L345.0,183.5 L346.1,184.6 L347.2,184.6 L348.4,185.5 L349.6,186.0 L350.8,186.8 L352.1,187.1 L353.4,187.4 L354.6,187.9 L355.7,188.2 L357.2,188.8 L358.5,188.8 L359.8,189.2 L361.1,189.2 L362.6,189.1 L363.7,189.0 L364.9,188.7 L366.1,188.5 L367.3,188.1 L368.6,187.6 L369.9,187.1 L371.2,186.6 L372.3,186.2 L373.4,186.0 L374.5,185.3 L375.7,184.7 L376.8,184.1 L378.0,183.8 L379.2,183.2 L380.4,182.9 L381.5,182.3 L382.7,181.5 L383.9,181.3 L385.2,180.8 L386.4,180.3 L387.6,179.7 L388.8,179.1 L389.9,178.7 L390.9,178.4 L391.7,178.1 L393.4,177.2 L395.0,176.5 L395.9,176.4 L397.0,175.9 L398.2,175.7 L399.5,175.3 L400.8,175.0 L402.2,174.6 L403.5,173.9 L404.8,173.9 L406.0,173.5 L407.2,173.1 L408.5,172.6 L409.7,172.3 L410.9,172.0 L412.2,171.7 L413.4,171.4 L414.6,171.3 L415.8,171.1 L417.0,171.0 L418.2,170.7 L419.4,170.8 L420.6,170.3 L421.8,170.7 L423.1,170.3 L424.4,170.4 L425.7,170.1 L427.0,170.0 L428.4,169.9 L429.9,170.0 L431.3,170.1 L432.7,170.1 L434.0,170.2 L435.2,170.3 L436.2,170.6 L437.9,170.5 L439.1,171.0 L440.1,171.4 L441.1,171.9 L442.2,172.6 L443.2,173.5 L444.1,174.5 L445.0,175.6 L445.7,176.6 L446.3,178.0 L446.9,178.9 L447.5,180.4 L448.0,181.8 L448.5,182.9 L448.9,184.1 L449.2,185.4 L449.6,187.2 L449.9,188.4 L450.2,189.8 L450.6,191.4 L450.9,192.8 L451.1,194.2 L451.4,195.3 L451.7,196.4 L451.9,197.4 L452.1,198.5 L452.4,200.1 L452.6,201.1 L452.8,202.1 L453.0,203.1 L453.2,204.3 L453.4,205.7 L453.6,207.0 L453.9,208.3 L454.1,209.7 L454.3,211.2 L454.5,212.3 L454.7,213.4 L454.8,214.7 L455.0,216.2 L455.2,217.4 L455.4,218.8 L455.5,220.1 L455.7,221.4 L455.9,222.9 L456.0,223.8 L456.2,225.1 L456.4,226.6 L456.6,228.1 L456.8,229.4 L457.0,230.6 L457.2,232.1 L457.4,232.8 L457.6,233.9 L457.8,235.4 L458.0,236.7 L458.2,237.8 L458.4,238.9 L458.6,240.4 L458.8,241.4 L459.1,243.1 L459.4,244.1 L459.7,245.3 L460.0,246.5 L460.3,247.4 L460.9,248.6 L461.4,249.8 L462.3,250.5 L463.3,249.6 L464.4,247.4 L464.9,246.5 L465.5,245.3 L466.1,243.9 L466.8,242.8 L467.2,241.5 L467.7,240.4 L468.2,239.2 L468.7,238.0 L469.2,236.9 L469.7,235.4 L470.2,234.7 L470.8,233.2 L471.4,232.0 L472.0,230.8 L472.6,229.7 L473.2,228.7 L473.9,227.3 L474.5,226.6 L475.2,225.4 L475.9,224.2 L476.7,223.2 L477.4,222.0 L478.3,221.1 L479.2,219.8 L480.2,219.1 L481.1,217.7 L482.0,216.8 L482.9,215.6 L483.7,214.9 L484.5,213.5 L485.4,212.4 L486.2,211.4 L486.9,210.4 L487.6,209.5 L488.3,208.1 L489.0,207.4 L489.6,206.1 L490.3,204.9 L491.0,203.9 L491.8,202.6 L492.5,201.5 L493.2,200.2 L493.8,199.3 L494.2,198.5" stroke="#ff0000"/></g>
<g class="cal" font-size="11.1" fill="#222" stroke="#222" stroke-width="0.2" text-anchor="end"><text transform="translate(56.2,58.60) scale(1,1.12)">0.1</text><text transform="translate(56.2,87.58) scale(1,1.12)">0.08</text><text transform="translate(56.2,116.56) scale(1,1.12)">0.06</text><text transform="translate(56.2,145.54) scale(1,1.12)">0.04</text><text transform="translate(56.2,174.52) scale(1,1.12)">0.02</text><text transform="translate(56.2,203.50) scale(1,1.12)">0</text><text transform="translate(56.2,232.48) scale(1,1.12)">-0.02</text><text transform="translate(56.2,261.46) scale(1,1.12)">-0.04</text><text transform="translate(56.2,290.44) scale(1,1.12)">-0.06</text><text transform="translate(56.2,319.42) scale(1,1.12)">-0.08</text><text transform="translate(56.2,348.40) scale(1,1.12)">-0.1</text></g>
<g class="cal" font-size="11.1" fill="#222" stroke="#222" stroke-width="0.2" text-anchor="middle"><text transform="translate(67.8,363.5) scale(1,1.12)">0</text><text transform="translate(153.1,363.5) scale(1,1.12)">200</text><text transform="translate(238.4,363.5) scale(1,1.12)">400</text><text transform="translate(323.6,363.5) scale(1,1.12)">600</text><text transform="translate(408.9,363.5) scale(1,1.12)">800</text><text transform="translate(494.2,363.5) scale(1,1.12)">1000</text></g>
<text class="cal" x="280.5" y="379.9" font-size="11.5" font-weight="bold" text-anchor="middle" fill="#000">Time (ms)</text>
<text class="cal" transform="translate(24.6,217.3) rotate(-90)" font-size="11" font-weight="bold" text-anchor="middle" fill="#000">Field&#160; potential (mV)</text>
<g stroke-width="2.1"><line x1="502.4" x2="517.7" y1="234.4" y2="234.4" stroke="#3f629a"/><line x1="502.4" x2="517.7" y1="253.2" y2="253.2" stroke="#86cc50"/><line x1="502.4" x2="517.7" y1="272.0" y2="272.0" stroke="#ffff10"/><line x1="502.4" x2="517.7" y1="290.8" y2="290.8" stroke="#ff9a28"/><line x1="502.4" x2="517.7" y1="309.6" y2="309.6" stroke="#ff2020"/></g>
<g class="cal" font-size="13" fill="#111" stroke="#111" stroke-width="0.2"><text x="519.5" y="238.1">0 nM</text><text x="519.5" y="256.9">1 nM</text><text x="519.5" y="275.7">3 nM</text><text x="519.5" y="294.5">10 nM</text><text x="519.5" y="313.3">30 nM</text></g>
<!-- chart D -->
<g stroke="#bababa" stroke-width="1.3"><line x1="646.2" x2="1005.0" y1="290.06" y2="290.06"/><line x1="646.2" x2="1005.0" y1="233.62" y2="233.62"/><line x1="646.2" x2="1005.0" y1="177.18" y2="177.18"/><line x1="646.2" x2="1005.0" y1="120.74" y2="120.74"/><line x1="646.2" x2="1005.0" y1="64.30" y2="64.30"/></g>
<g stroke="#000" stroke-width="1.1"><line x1="642.2" x2="646.2" y1="346.50" y2="346.50"/><line x1="642.2" x2="646.2" y1="290.06" y2="290.06"/><line x1="642.2" x2="646.2" y1="233.62" y2="233.62"/><line x1="642.2" x2="646.2" y1="177.18" y2="177.18"/><line x1="642.2" x2="646.2" y1="120.74" y2="120.74"/><line x1="642.2" x2="646.2" y1="64.30" y2="64.30"/><line x1="646.2" x2="649.6" y1="323.92" y2="323.92"/><line x1="646.2" x2="649.6" y1="301.35" y2="301.35"/><line x1="646.2" x2="649.6" y1="278.77" y2="278.77"/><line x1="646.2" x2="649.6" y1="256.20" y2="256.20"/><line x1="646.2" x2="649.6" y1="233.62" y2="233.62"/><line x1="646.2" x2="649.6" y1="211.04" y2="211.04"/><line x1="646.2" x2="649.6" y1="188.47" y2="188.47"/><line x1="646.2" x2="649.6" y1="165.89" y2="165.89"/><line x1="646.2" x2="649.6" y1="143.32" y2="143.32"/><line x1="646.2" x2="649.6" y1="120.74" y2="120.74"/><line x1="646.2" x2="649.6" y1="98.16" y2="98.16"/><line x1="646.2" x2="649.6" y1="75.59" y2="75.59"/><line x1="646.20" x2="646.20" y1="346.5" y2="350.3"/><line x1="789.70" x2="789.70" y1="346.5" y2="350.3"/><line x1="933.20" x2="933.20" y1="346.5" y2="350.3"/><line x1="674.90" x2="674.90" y1="346.5" y2="343"/><line x1="703.60" x2="703.60" y1="346.5" y2="343"/><line x1="732.30" x2="732.30" y1="346.5" y2="343"/><line x1="761.00" x2="761.00" y1="346.5" y2="343"/><line x1="789.70" x2="789.70" y1="346.5" y2="343"/><line x1="818.40" x2="818.40" y1="346.5" y2="343"/><line x1="847.10" x2="847.10" y1="346.5" y2="343"/><line x1="875.80" x2="875.80" y1="346.5" y2="343"/><line x1="904.50" x2="904.50" y1="346.5" y2="343"/><line x1="933.20" x2="933.20" y1="346.5" y2="343"/><line x1="961.90" x2="961.90" y1="346.5" y2="343"/><line x1="990.60" x2="990.60" y1="346.5" y2="343"/></g>
<line x1="646.2" x2="646.2" y1="63.8" y2="347" stroke="#000" stroke-width="1.4"/>
<line x1="645.5" x2="1005.2" y1="346.5" y2="346.5" stroke="#000" stroke-width="1.4"/>
<g class="ari" font-size="11.6" fill="#111" stroke="#111" stroke-width="0.25" text-anchor="end"><text transform="translate(631.2,350.80) scale(1,1.08)">400</text><text transform="translate(631.2,294.36) scale(1,1.08)">450</text><text transform="translate(631.2,237.92) scale(1,1.08)">500</text><text transform="translate(631.2,181.48) scale(1,1.08)">550</text><text transform="translate(631.2,125.04) scale(1,1.08)">600</text><text transform="translate(631.2,68.60) scale(1,1.08)">650</text></g>
<g class="ari" font-size="11.6" fill="#111" stroke="#111" stroke-width="0.25" text-anchor="middle"><text transform="translate(645.2,367.6) scale(1,1.08)">400</text><text transform="translate(788.7,367.6) scale(1,1.08)">500</text><text transform="translate(932.2,367.6) scale(1,1.08)">600</text></g>
<g fill="#1f4a8c"><path d="M726.3,287.5 L715.8,284.9 L723.7,284.3 L721.2,284.9 L717.5,287.5 L719.5,290.5 L719.3,282.4 L724.4,291.9 L728.5,280.8 L722.5,282.7 L713.9,289.7 L720.6,288.7 L722.5,286.0 L723.1,287.5 L725.0,289.4 L721.8,290.3 L718.6,285.9 L727.6,285.6" stroke="#1f4a8c" stroke-width="0.60" fill="none" opacity="0.8"/><circle cx="728.5" cy="280.8" r="1.35"/><circle cx="722.5" cy="282.7" r="1.35"/><circle cx="719.3" cy="282.4" r="1.35"/><circle cx="715.8" cy="284.9" r="1.35"/><circle cx="718.6" cy="285.9" r="1.35"/><circle cx="721.2" cy="284.9" r="1.35"/><circle cx="723.7" cy="284.3" r="1.35"/><circle cx="727.6" cy="285.6" r="1.35"/><circle cx="726.3" cy="287.5" r="1.35"/><circle cx="723.1" cy="287.5" r="1.35"/><circle cx="720.6" cy="288.7" r="1.35"/><circle cx="721.8" cy="290.3" r="1.35"/><circle cx="724.4" cy="291.9" r="1.35"/><circle cx="713.9" cy="289.7" r="1.35"/><circle cx="725.0" cy="289.4" r="1.35"/><circle cx="717.5" cy="287.5" r="1.35"/><circle cx="719.5" cy="290.5" r="1.35"/><circle cx="722.5" cy="286.0" r="1.35"/></g>
<g fill="#86c84a"><path d="M709.7,294.5 L714.8,292.6 L719.3,295.1 L707.8,291.6 L713.6,297.0 L710.4,289.7 L707.8,297.0 L710.4,298.3 L717.4,297.0 L715.0,295.5 L716.7,293.2 L718.6,290.6 L716.7,288.1 L719.9,293.2 L712.9,293.8 L707.8,294.5 L712.0,290.5 L718.0,291.5 L711.0,296.0" stroke="#86c84a" stroke-width="0.60" fill="none" opacity="0.8"/><circle cx="710.4" cy="289.7" r="1.35"/><circle cx="707.8" cy="291.6" r="1.35"/><circle cx="716.7" cy="288.1" r="1.35"/><circle cx="718.6" cy="290.6" r="1.35"/><circle cx="714.8" cy="292.6" r="1.35"/><circle cx="707.8" cy="297.0" r="1.35"/><circle cx="710.4" cy="298.3" r="1.35"/><circle cx="713.6" cy="297.0" r="1.35"/><circle cx="717.4" cy="297.0" r="1.35"/><circle cx="719.3" cy="295.1" r="1.35"/><circle cx="712.9" cy="293.8" r="1.35"/><circle cx="709.7" cy="294.5" r="1.35"/><circle cx="707.8" cy="294.5" r="1.35"/><circle cx="719.9" cy="293.2" r="1.35"/><circle cx="716.7" cy="293.2" r="1.35"/><circle cx="712.0" cy="290.5" r="1.35"/><circle cx="715.0" cy="295.5" r="1.35"/><circle cx="711.0" cy="296.0" r="1.35"/><circle cx="718.0" cy="291.5" r="1.35"/></g>
<line x1="785.2" x2="785.2" y1="241" y2="275" stroke="#ffff00" stroke-width="1.1"/><circle cx="785.2" cy="275" r="1.3" fill="#ffff00"/>
<g fill="#ffff00"><path d="M778.6,242.9 L779.9,241.6 L779.7,244.4 L777.1,243.0 L780.5,242.6 L776.4,241.1 L778.1,238.3 L779.9,238.8 L780.3,243.3 L776.3,243.2 L783.0,241.8 L780.7,242.4 L784.0,240.0 L776.7,239.9 L782.0,238.8 L783.6,243.0 L781.5,244.7 L779.4,243.9 L782.2,243.9 L784.1,238.7 L782.5,242.2 L776.5,243.3 L777.2,242.0 L776.3,239.7 L781.3,240.5 L781.3,244.5 L777.3,244.2 L784.4,237.8 L781.8,238.9 L782.1,239.8 L775.7,242.4 L784.0,239.3 L780.6,241.9 L778.8,240.5" stroke="#ffff00" stroke-width="0.90" fill="none" opacity="0.8"/><circle cx="779.9" cy="241.6" r="1.45"/><circle cx="780.6" cy="241.9" r="1.45"/><circle cx="776.4" cy="241.1" r="1.45"/><circle cx="782.2" cy="243.9" r="1.45"/><circle cx="782.5" cy="242.2" r="1.45"/><circle cx="779.7" cy="244.4" r="1.45"/><circle cx="780.7" cy="242.4" r="1.45"/><circle cx="780.5" cy="242.6" r="1.45"/><circle cx="779.9" cy="238.8" r="1.45"/><circle cx="778.1" cy="238.3" r="1.45"/><circle cx="784.0" cy="240.0" r="1.45"/><circle cx="784.1" cy="238.7" r="1.45"/><circle cx="784.4" cy="237.8" r="1.45"/><circle cx="781.3" cy="240.5" r="1.45"/><circle cx="776.5" cy="243.3" r="1.45"/><circle cx="775.7" cy="242.4" r="1.45"/><circle cx="776.7" cy="239.9" r="1.45"/><circle cx="784.0" cy="239.3" r="1.45"/><circle cx="777.2" cy="242.0" r="1.45"/><circle cx="778.8" cy="240.5" r="1.45"/><circle cx="781.5" cy="244.7" r="1.45"/><circle cx="777.1" cy="243.0" r="1.45"/><circle cx="777.3" cy="244.2" r="1.45"/><circle cx="781.8" cy="238.9" r="1.45"/><circle cx="776.3" cy="243.2" r="1.45"/><circle cx="781.3" cy="244.5" r="1.45"/><circle cx="782.0" cy="238.8" r="1.45"/><circle cx="776.3" cy="239.7" r="1.45"/><circle cx="783.0" cy="241.8" r="1.45"/><circle cx="780.3" cy="243.3" r="1.45"/><circle cx="783.6" cy="243.0" r="1.45"/><circle cx="778.6" cy="242.9" r="1.45"/><circle cx="779.4" cy="243.9" r="1.45"/><circle cx="782.1" cy="239.8" r="1.45"/></g>
<g fill="#f79628"><path d="M977.6,78.1 L978.1,88.4 L990.5,80.8 L993.2,80.0 L981.4,85.1 L984.1,83.0 L982.0,82.0 L985.4,75.1 L978.1,84.9 L984.1,78.1 L983.0,80.8 L974.3,84.3 L983.5,85.7 L986.2,85.9 L987.8,82.4 L980.8,78.6 L985.5,81.5 L988.9,78.6 L986.8,79.7 L977.6,73.8 L979.2,81.4" stroke="#f79628" stroke-width="0.60" fill="none" opacity="0.8"/><circle cx="977.6" cy="73.8" r="1.20"/><circle cx="985.4" cy="75.1" r="1.20"/><circle cx="977.6" cy="78.1" r="1.20"/><circle cx="980.8" cy="78.6" r="1.20"/><circle cx="984.1" cy="78.1" r="1.20"/><circle cx="988.9" cy="78.6" r="1.20"/><circle cx="993.2" cy="80.0" r="1.20"/><circle cx="990.5" cy="80.8" r="1.20"/><circle cx="986.8" cy="79.7" r="1.20"/><circle cx="983.0" cy="80.8" r="1.20"/><circle cx="979.2" cy="81.4" r="1.20"/><circle cx="987.8" cy="82.4" r="1.20"/><circle cx="984.1" cy="83.0" r="1.20"/><circle cx="974.3" cy="84.3" r="1.20"/><circle cx="978.1" cy="84.9" r="1.20"/><circle cx="983.5" cy="85.7" r="1.20"/><circle cx="986.2" cy="85.9" r="1.20"/><circle cx="981.4" cy="85.1" r="1.20"/><circle cx="978.1" cy="88.4" r="1.20"/><circle cx="982.0" cy="82.0" r="1.20"/><circle cx="985.5" cy="81.5" r="1.20"/></g>
<g class="cal" font-size="15.6" fill="#000" stroke="#000" stroke-width="0.2">
<text x="685.0" y="277.9">1.78</text>
<text x="747.6" y="223.6">2.27</text>
<text x="935.4" y="86.7">2.48</text>
</g>
<text class="ari" x="795.3" y="382.5" font-size="11.3" font-weight="bold" fill="#000">FPD<tspan font-size="8.5" dy="2.5">N</tspan><tspan dy="-2.5" x="832" font-size="12.2">(ms)</tspan></text>
<text class="ari" transform="translate(598.4,234.8) rotate(-90)" font-size="11.6" font-weight="bold" fill="#000">FPD<tspan font-size="8" dy="2.5">N+1</tspan><tspan dy="-2.5">&#160;(ms)</tspan></text>
<line x1="1016.9" x2="1032.6" y1="246.1" y2="246.1" stroke="#1f4a8c" stroke-width="1"/><circle cx="1024.7" cy="246.1" r="1.2" fill="#1f4a8c"/><line x1="1016.9" x2="1032.6" y1="266.6" y2="266.6" stroke="#86c84a" stroke-width="1"/><circle cx="1024.7" cy="266.6" r="1.2" fill="#86c84a"/><line x1="1016.9" x2="1032.6" y1="287.2" y2="287.2" stroke="#ffff00" stroke-width="1"/><circle cx="1024.7" cy="287.2" r="1.2" fill="#ffff00"/><line x1="1016.9" x2="1032.6" y1="307.8" y2="307.8" stroke="#f79628" stroke-width="1"/><circle cx="1024.7" cy="307.8" r="1.2" fill="#f79628"/>
<g class="ari" font-size="11.8" fill="#111" stroke="#111" stroke-width="0.2"><text x="1034.2" y="250.0">0 nM</text><text x="1034.2" y="270.5">1 nM</text><text x="1034.2" y="291.1">3 nM</text><text x="1034.2" y="311.6">10 nM</text></g>
</svg>
</body></html>
